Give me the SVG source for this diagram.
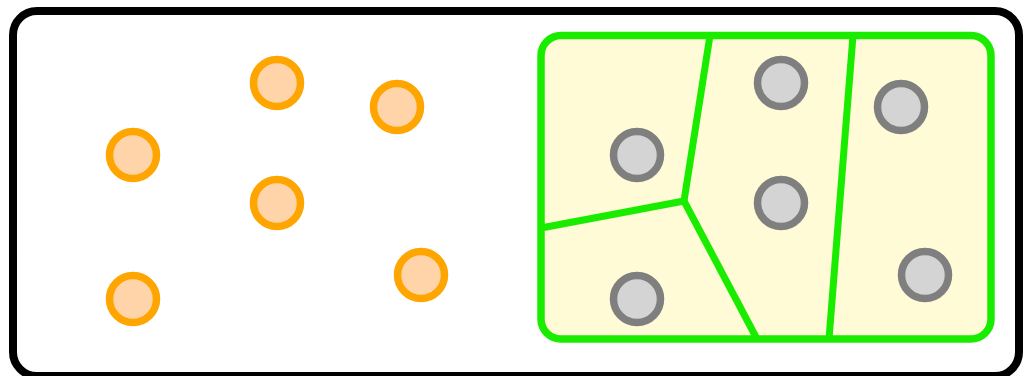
<svg xmlns="http://www.w3.org/2000/svg" width="1024" height="376" viewBox="0 0 1024 376">
  <style>
    .frame { fill: #ffffff; stroke: #000000; stroke-width: 8; }
    .region { fill: #fefbd6; stroke: #1aec00; stroke-width: 7.5; }
    .edge { fill: none; stroke: #1aec00; stroke-width: 7; stroke-linecap: butt; stroke-linejoin: round; }
    .pt { stroke: #ffa500; fill: #ffd4a8; stroke-width: 7.5; }
    .site { stroke: #7f7f7f; fill: #d4d4d4; stroke-width: 7.5; }
  </style>

  <!-- outer frame -->
  <rect class="frame" x="13" y="11" width="1006" height="365" rx="24" ry="24"/>

  <!-- scattered points -->
  <g id="points">
    <circle id="p1" class="pt" cx="133" cy="155" r="23.5"/>
    <circle id="p2" class="pt" cx="277" cy="83" r="23.5"/>
    <circle id="p3" class="pt" cx="397" cy="107" r="23.5"/>
    <circle id="p4" class="pt" cx="277" cy="203" r="23.5"/>
    <circle id="p5" class="pt" cx="133" cy="299" r="23.5"/>
    <circle id="p6" class="pt" cx="421" cy="275" r="23.5"/>
  </g>

  <!-- partitioned region -->
  <g id="diagram">
    <rect class="region" x="541" y="35.5" width="450" height="303.5" rx="20" ry="20"/>
    <g id="cell-edges">
      <polyline class="edge" points="710,35.5 684,201 541,228"/>
      <line class="edge" x1="684" y1="201" x2="757" y2="339"/>
      <line class="edge" x1="853" y1="35.5" x2="829" y2="339"/>
    </g>
    <g id="sites">
      <circle id="s1" class="site" cx="637" cy="155" r="23.5"/>
      <circle id="s2" class="site" cx="781" cy="83" r="23.5"/>
      <circle id="s3" class="site" cx="901" cy="107" r="23.5"/>
      <circle id="s4" class="site" cx="781" cy="203" r="23.5"/>
      <circle id="s5" class="site" cx="925" cy="275" r="23.5"/>
      <circle id="s6" class="site" cx="637" cy="299" r="23.5"/>
    </g>
  </g>
</svg>
